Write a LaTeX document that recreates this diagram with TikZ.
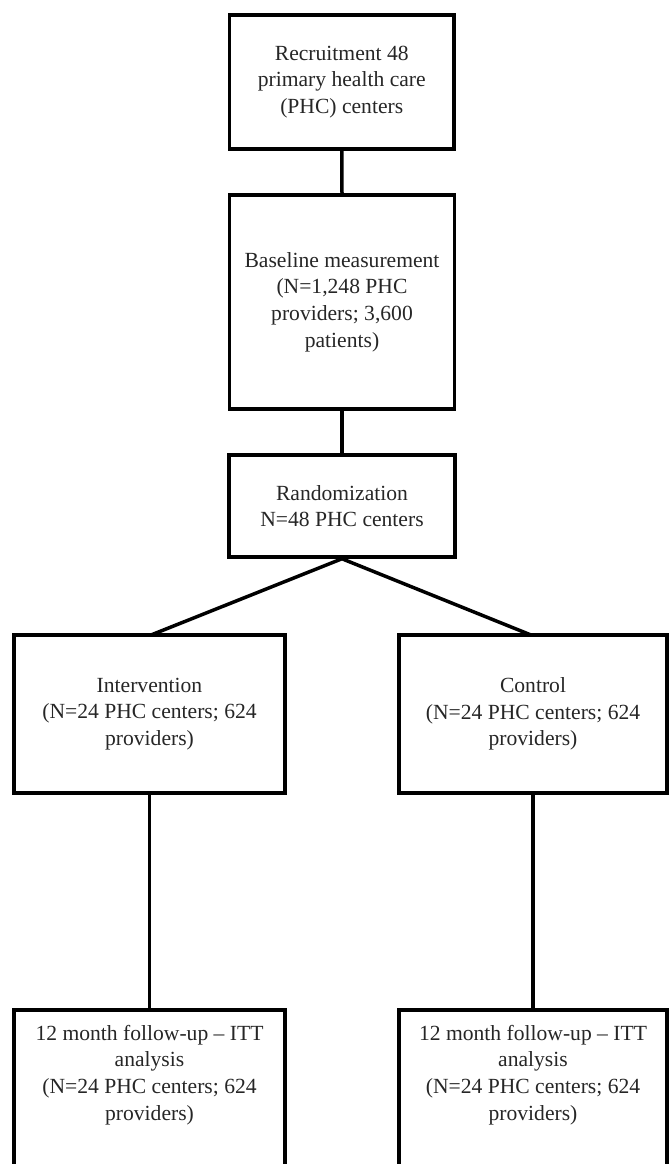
\documentclass[tikz,border=0pt]{standalone}
\usepackage{fontspec}
\setmainfont{Liberation Serif}
\begin{document}
\begin{tikzpicture}[x=1pt,y=1pt,
  box/.style={draw=black, line width=3.5pt, rectangle, inner sep=0pt, align=center,
    font=\fontsize{21.6}{26.7}\selectfont, text=black!85},
  txt/.style={inner sep=0pt, align=center, font=\fontsize{21.6}{26.7}\selectfont, text=black!85},
  link/.style={draw=black, line width=3.5pt}]
\useasboundingbox (0,0) rectangle (669,-1164);
\node[box, minimum width=224.5pt, minimum height=134pt] (rec) at (341.75,-82)
  {Recruitment 48\\primary health care\\(PHC) centers};
\node[box, minimum width=225pt, minimum height=214pt] (base) at (342,-302)
  {Baseline measurement\\(N=1,248 PHC\\providers; 3,600\\patients)};
\node[box, minimum width=226pt, minimum height=102pt] (rand) at (342,-506)
  {Randomization\\N=48 PHC centers};
\node[box, minimum width=271pt, minimum height=158pt] (int) at (149.5,-714)
  {Intervention\\(N=24 PHC centers; 624\\providers)};
\node[box, minimum width=268pt, minimum height=158pt] (ctl) at (533,-714)
  {Control\\(N=24 PHC centers; 624\\providers)};
\node[box, minimum width=271pt, minimum height=160pt] (fuL) at (149.5,-1090) {};
\node[box, minimum width=268pt, minimum height=160pt] (fuR) at (533,-1090) {};
\node[txt] (fuLt) at (149.5,-1075) {12 month follow-up -- ITT\\analysis\\(N=24 PHC centers; 624\\providers)};
\node[txt] (fuRt) at (533,-1075) {12 month follow-up -- ITT\\analysis\\(N=24 PHC centers; 624\\providers)};
\draw[link] (rec.south) -- (base.north);
\draw[link] (base.south) -- (rand.north);
\coordinate (ltop) at (151,-635);
\coordinate (rtop) at (531,-635);
\draw[link, line join=miter] (ltop) -- (rand.south) -- (rtop);
\draw[link] (int.south) -- (fuL.north);
\draw[link] (ctl.south) -- (fuR.north);
\end{tikzpicture}
\end{document}
